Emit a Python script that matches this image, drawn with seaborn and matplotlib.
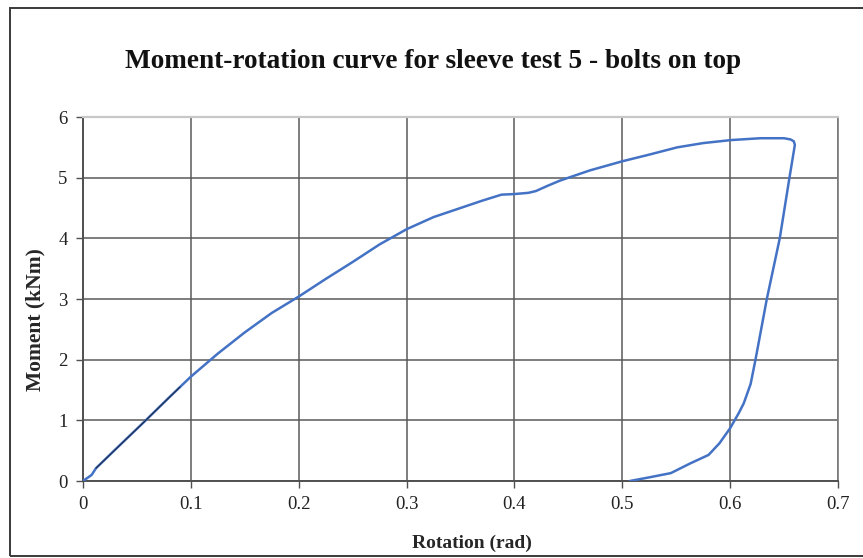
import numpy as np
import pandas as pd
import matplotlib
matplotlib.use("Agg")
import matplotlib.pyplot as plt
import seaborn as sns

# Moment-rotation record for sleeve test 5 (loading then unloading)
rotation = [0.000, 0.004, 0.008, 0.012, 0.030, 0.057, 0.080, 0.100, 0.125, 0.150,
            0.175, 0.200, 0.225, 0.250, 0.275, 0.300, 0.325, 0.350, 0.370, 0.388,
            0.400, 0.413, 0.420, 0.430, 0.442, 0.470, 0.500, 0.525, 0.551, 0.575,
            0.601, 0.628, 0.650, 0.656, 0.659, 0.660, 0.655, 0.646, 0.634, 0.6235,
            0.619, 0.6126, 0.608, 0.600, 0.590, 0.580, 0.563, 0.545, 0.525, 0.507]
moment = [0.00, 0.05, 0.10, 0.21, 0.52, 0.98, 1.38, 1.72, 2.10, 2.45,
          2.77, 3.04, 3.33, 3.61, 3.90, 4.15, 4.35, 4.50, 4.62, 4.72,
          4.73, 4.75, 4.78, 4.86, 4.95, 5.12, 5.27, 5.38, 5.50, 5.57,
          5.62, 5.65, 5.65, 5.63, 5.60, 5.54, 5.00, 4.00, 3.00, 2.00,
          1.60, 1.28, 1.12, 0.87, 0.62, 0.43, 0.29, 0.13, 0.06, 0.00]

# Initial linear stretch, traced as a second darker series
init_rotation = [0.012, 0.057, 0.090]
init_moment = [0.21, 0.98, 1.55]

x_ticks = [0, 0.1, 0.2, 0.3, 0.4, 0.5, 0.6, 0.7]
x_tick_labels = ["0", "0.1", "0.2", "0.3", "0.4", "0.5", "0.6", "0.7"]
y_ticks = [0, 1, 2, 3, 4, 5, 6]

df = pd.DataFrame({"Rotation": rotation, "Moment": moment, "step": np.arange(len(rotation))})
df_init = pd.DataFrame({"Rotation": init_rotation, "Moment": init_moment})

sns.set_theme(style="white")
plt.rcParams["font.family"] = ["Liberation Serif", "DejaVu Serif"]

fig = plt.figure(figsize=(8.63, 5.58), dpi=100)
ax = fig.add_axes([83 / 863, 1 - 481 / 558, (838 - 83) / 863, (481 - 117) / 558])

# Outer chart frame
frame = plt.Rectangle((10 / 863, 2 / 558), 1.2, (556 - 8) / 558, transform=fig.transFigure,
                      fill=False, edgecolor="#3a3a3a", linewidth=1.4, zorder=0)
fig.patches.append(frame)

sns.lineplot(data=df, x="Rotation", y="Moment", sort=False, estimator=None,
             color="#4472C4", linewidth=1.8, ax=ax, zorder=3)
sns.lineplot(data=df_init, x="Rotation", y="Moment", sort=False, estimator=None,
             color="#1f2d4a", linewidth=0.8, ax=ax, zorder=4)

ax.set_xlim(0, 0.7)
ax.set_ylim(0, 6)
ax.set_xticks(x_ticks)
ax.set_xticklabels(x_tick_labels)
ax.set_yticks(y_ticks)
ax.grid(True, color="#5a5a5a", linewidth=1.1)
ax.set_axisbelow(True)

for side in ["left", "bottom"]:
    ax.spines[side].set_color("#505050")
    ax.spines[side].set_linewidth(1.4)
ax.spines["top"].set_color("#c8c8c8")
ax.spines["top"].set_linewidth(1.6)
ax.spines["right"].set_color("#7a7a7a")
ax.spines["right"].set_linewidth(1.2)

ax.tick_params(axis="both", which="major", direction="out", length=5, width=1.0,
               color="#505050", labelsize=13.5, labelcolor="#222222", pad=6,
               bottom=True, left=True)

ax.set_xlabel("Rotation (rad)", fontsize=14, fontweight="bold")
ax.set_ylabel("Moment (kNm)", fontsize=15.5, fontweight="bold")
ax.xaxis.label.set_va("center")
ax.yaxis.label.set_va("center")
ax.xaxis.set_label_coords((472 - 83) / 755, (481 - 543) / 364)
ax.yaxis.set_label_coords((35 - 83) / 755, (481 - 320) / 364)

fig.text(433 / 863, 1 - 61 / 558, "Moment-rotation curve for sleeve test 5 - bolts on top",
         ha="center", va="center", fontsize=19.6, fontweight="bold", color="#111111")

fig.savefig("out.png", dpi=100)
